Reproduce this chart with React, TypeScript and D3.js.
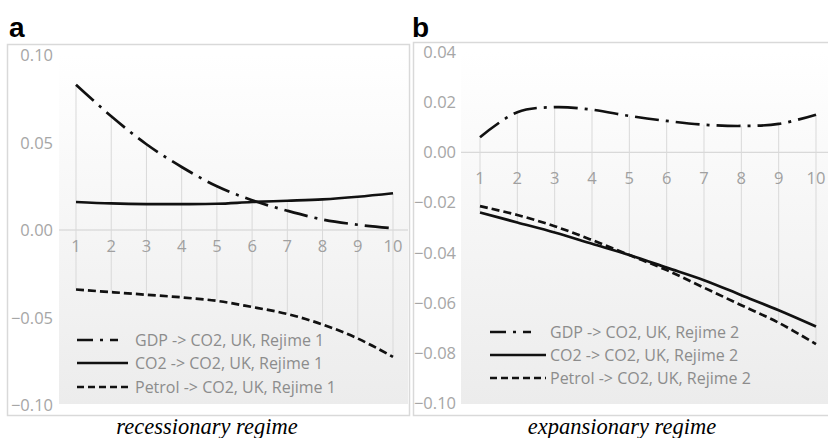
import React from "react";
import * as d3 from "d3";

const categories = [1, 2, 3, 4, 5, 6, 7, 8, 9, 10];

const gdpA = [0.083, 0.065, 0.049, 0.036, 0.025, 0.017, 0.011, 0.006, 0.003, 0.001];
const co2A = [0.016, 0.0152, 0.0148, 0.0148, 0.015, 0.016, 0.0167, 0.0175, 0.019, 0.021];
const petrolA = [-0.034, -0.0355, -0.037, -0.0385, -0.0405, -0.044, -0.048, -0.054, -0.062, -0.0725];

const gdpB = [0.006, 0.016, 0.018, 0.017, 0.0145, 0.0125, 0.011, 0.0105, 0.0113, 0.015];
const co2B = [-0.024, -0.028, -0.032, -0.0365, -0.041, -0.046, -0.051, -0.057, -0.063, -0.0695];
const petrolB = [-0.0215, -0.025, -0.0295, -0.035, -0.041, -0.047, -0.054, -0.061, -0.068, -0.0765];

const ticksA = [0.1, 0.05, 0, -0.05, -0.1];
const ticksB = [0.04, 0.02, 0, -0.02, -0.04, -0.06, -0.08, -0.1];

const seriesNamesA = ["GDP -> CO2, UK, Rejime 1", "CO2 -> CO2, UK, Rejime 1", "Petrol -> CO2, UK, Rejime 1"];
const seriesNamesB = ["GDP -> CO2, UK, Rejime 2", "CO2 -> CO2, UK, Rejime 2", "Petrol -> CO2, UK, Rejime 2"];

const dashes = ["24,7,3,7", "none", "8,4"];
const legendDashes = ["16,7,3,7,8", "none", "7,4"];

const FONT = "'Open Sans', 'DejaVu Sans', sans-serif";

type PanelProps = {
  id: string;
  letter: string;
  caption: string;
  frame: { x: number; y: number; w: number; h: number };
  plot: { x0: number; x1: number; top: number; bottom: number };
  domain: [number, number];
  yRange: [number, number];
  xRange: [number, number];
  ticks: number[];
  series: number[][];
  names: string[];
  tickX: number;
  catY: number;
  legend: { x0: number; x1: number; tx: number; ys: number[] };
  letterX: number;
  captionX: number;
};

function Panel(p: PanelProps) {
  const y = d3.scaleLinear().domain(p.domain).range(p.yRange);
  const x = d3.scalePoint<number>().domain(categories).range(p.xRange);
  const line = d3
    .line<number>()
    .x((_, i) => x(categories[i]) as number)
    .y((d) => y(d))
    .curve(d3.curveCatmullRom.alpha(0.5));
  const fmt = d3.format(".2f");
  return (
    <g>
      <text x={p.letterX} y={37} fontFamily="'Liberation Sans', Arial, sans-serif" fontWeight="bold" fontSize={28} fill="#000">
        {p.letter}
      </text>
      <rect x={p.frame.x + 0.5} y={p.frame.y + 0.5} width={p.frame.w} height={p.frame.h} fill="#fff" stroke="#d9d9d9" strokeWidth={1.5} />
      <rect x={p.plot.x0} y={p.plot.top} width={p.plot.x1 - p.plot.x0} height={p.plot.bottom - p.plot.top} fill={`url(#grad-${p.id})`} />
      {p.ticks.map((t) => (
        <text key={t} x={p.tickX} y={y(t) + 6} textAnchor="end" fontFamily={FONT} fontSize={16.5} fill="#a6a6a6">
          {fmt(t)}
        </text>
      ))}
      <line x1={p.plot.x0} x2={p.plot.x1} y1={y(0)} y2={y(0)} stroke="#d0d0d0" strokeWidth={1} />
      {categories.map((c, i) => {
        const vals = p.series.map((s) => s[i]);
        return (
          <line key={c} x1={x(c)} x2={x(c)} y1={y(d3.max(vals) as number)} y2={y(d3.min(vals) as number)} stroke="#d9d9d9" strokeWidth={1} />
        );
      })}
      {categories.map((c) => (
        <text key={c} x={x(c)} y={p.catY} textAnchor="middle" fontFamily={FONT} fontSize={16.5} fill="#a0a0a0">
          {c}
        </text>
      ))}
      {p.series.map((s, k) => (
        <path key={k} d={line(s) as string} fill="none" stroke="#111" strokeWidth={2.7} strokeDasharray={dashes[k]} />
      ))}
      {p.names.map((n, k) => (
        <g key={n}>
          <line x1={p.legend.x0} x2={p.legend.x1} y1={p.legend.ys[k]} y2={p.legend.ys[k]} stroke="#111" strokeWidth={2.7} strokeDasharray={legendDashes[k]} />
          <text x={p.legend.tx} y={p.legend.ys[k] + 5.5} fontFamily={FONT} fontSize={16} fill="#8c8c8c">
            {n}
          </text>
        </g>
      ))}
      <text x={p.captionX} y={434} textAnchor="middle" fontFamily="'Liberation Serif', 'Times New Roman', serif" fontStyle="italic" fontSize={22.5} fill="#000">
        {p.caption}
      </text>
    </g>
  );
}

export default function App() {
  return (
    <svg width={828} height={438} style={{ position: "absolute", left: 0, top: 0, background: "#fff" }}>
      <defs>
        {["a", "b"].map((id) => (
          <linearGradient key={id} id={`grad-${id}`} x1="0" y1="0" x2="0" y2="1">
            <stop offset="0" stopColor="#ffffff" />
            <stop offset="1" stopColor="#ececec" />
          </linearGradient>
        ))}
      </defs>
      <Panel
        id="a"
        letter="a"
        caption="recessionary regime"
        frame={{ x: 7, y: 44, w: 402, h: 371 }}
        plot={{ x0: 59, x1: 408, top: 55, bottom: 404 }}
        domain={[-0.1, 0.1]}
        yRange={[405, 55]}
        xRange={[76, 393]}
        ticks={ticksA}
        series={[gdpA, co2A, petrolA]}
        names={seriesNamesA}
        tickX={53}
        catY={252}
        legend={{ x0: 77, x1: 128, tx: 135, ys: [340, 363, 387] }}
        letterX={9}
        captionX={207}
      />
      <Panel
        id="b"
        letter="b"
        caption="expansionary regime"
        frame={{ x: 413, y: 42, w: 420, h: 373 }}
        plot={{ x0: 461, x1: 828, top: 52, bottom: 404 }}
        domain={[-0.1, 0.04]}
        yRange={[403, 52]}
        xRange={[480, 816]}
        ticks={ticksB}
        series={[gdpB, co2B, petrolB]}
        names={seriesNamesB}
        tickX={456}
        catY={184}
        legend={{ x0: 490, x1: 546, tx: 550, ys: [332, 355, 378] }}
        letterX={412}
        captionX={622}
      />
    </svg>
  );
}
